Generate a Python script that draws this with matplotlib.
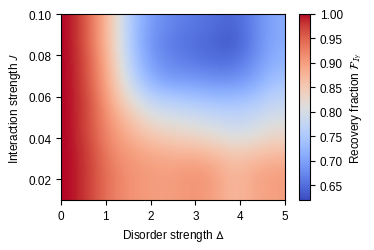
import numpy as np
import matplotlib
matplotlib.use("Agg")
import matplotlib.pyplot as plt

# grid the scan was taken on
delta = [0.0, 0.5, 1.0, 1.5, 2.0, 2.5, 3.0, 3.5, 4.0, 4.5, 5.0]
J = [0.01, 0.02, 0.03, 0.04, 0.05, 0.06, 0.07, 0.08, 0.09, 0.10]

# recovery fraction, one row per J (bottom to top), one column per delta
F_J001 = [1.00, 0.97, 0.93, 0.91, 0.90, 0.90, 0.91, 0.90, 0.87, 0.89, 0.90]
F_J002 = [1.00, 0.97, 0.93, 0.91, 0.90, 0.90, 0.91, 0.90, 0.87, 0.89, 0.90]
F_J003 = [1.00, 0.97, 0.92, 0.90, 0.89, 0.88, 0.88, 0.87, 0.85, 0.86, 0.87]
F_J004 = [1.00, 0.96, 0.91, 0.88, 0.85, 0.84, 0.83, 0.82, 0.80, 0.81, 0.83]
F_J005 = [1.00, 0.96, 0.90, 0.85, 0.81, 0.80, 0.79, 0.78, 0.77, 0.78, 0.80]
F_J006 = [1.00, 0.96, 0.88, 0.81, 0.76, 0.75, 0.74, 0.73, 0.73, 0.74, 0.77]
F_J007 = [1.00, 0.95, 0.87, 0.77, 0.71, 0.69, 0.69, 0.68, 0.68, 0.70, 0.74]
F_J008 = [1.00, 0.95, 0.86, 0.75, 0.69, 0.67, 0.66, 0.65, 0.65, 0.68, 0.72]
F_J009 = [1.00, 0.94, 0.85, 0.74, 0.68, 0.66, 0.65, 0.64, 0.63, 0.67, 0.71]
F_J010 = [1.00, 0.94, 0.85, 0.74, 0.69, 0.67, 0.66, 0.65, 0.64, 0.67, 0.71]

x_ticks = [0, 1, 2, 3, 4, 5]
y_ticks = [0.02, 0.04, 0.06, 0.08, 0.10]
cbar_ticks = [0.65, 0.70, 0.75, 0.80, 0.85, 0.90, 0.95, 1.00]

plt.rcParams["font.family"] = ["Liberation Sans", "DejaVu Sans"]
plt.rcParams["mathtext.fontset"] = "stixsans"
plt.rcParams["font.size"] = 8.5

F = np.array([F_J001, F_J002, F_J003, F_J004, F_J005,
              F_J006, F_J007, F_J008, F_J009, F_J010])

fig = plt.figure(figsize=(3.74, 2.51), dpi=100)
ax = fig.add_axes([61 / 374, 50 / 251, 224 / 374, 186 / 251])
cax = fig.add_axes([299 / 374, 50 / 251, 11 / 374, 186 / 251])

im = ax.imshow(F, origin="lower", aspect="auto", cmap="coolwarm",
               interpolation="bicubic", vmin=0.62, vmax=1.0,
               extent=[delta[0], delta[-1], J[0], J[-1]])
ax.set_xticks(x_ticks)
ax.set_yticks(y_ticks)
ax.set_xlabel(r"Disorder strength $\Delta$")
ax.set_ylabel(r"Interaction strength $J$")

cb = fig.colorbar(im, cax=cax, ticks=cbar_ticks)
cb.set_label(r"Recovery fraction $\mathcal{F}_{I_Y}$")

fig.savefig("out.png", dpi=100)
